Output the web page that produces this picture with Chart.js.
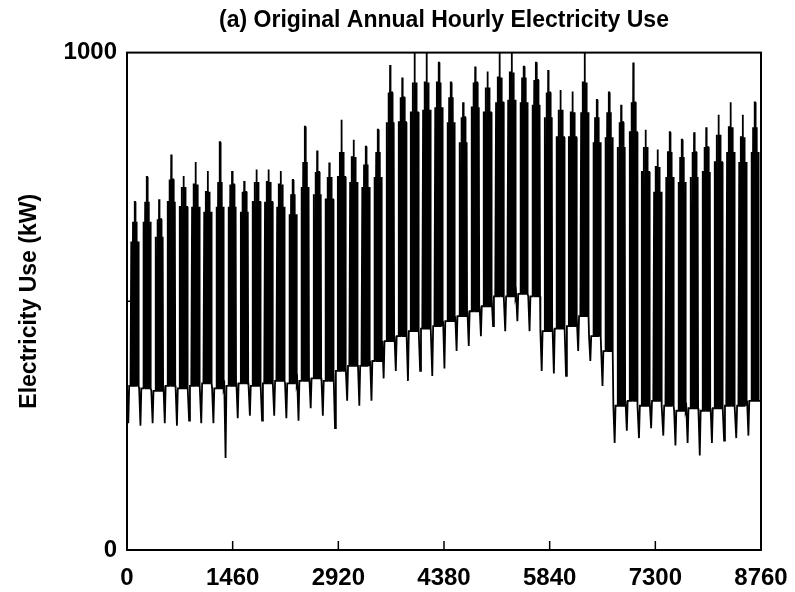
<!DOCTYPE html>
<html><head><meta charset="utf-8">
<script src="https://cdn.jsdelivr.net/npm/chart.js@4/dist/chart.umd.min.js"></script>
<style>html,body{margin:0;padding:0;background:#fff}#wrap{width:795px;height:592px}</style>
</head><body><div id="wrap"><canvas id="c" width="795" height="592"></canvas></div>
<script>
// Tick labels
const xTicks = [0,1460,2920,4380,5840,7300,8760];
const yTicks = [0,500,1000];
// Weekly readings (kW): highest weekday spike, typical weekday peak,
// lower weekday peak (start/end of week), weekday night floor, weekend low
const weekPeak = [700,750,705,795,752,780,762,820,762,742,765,765,762,744,851,803,779,865,825,811,845,975,950,1000,1000,980,940,900,972,962,1000,1000,972,980,965,925,922,1000,905,920,895,980,845,805,840,825,840,850,875,900,875,900];
const weekTop = [660,700,665,745,730,735,720,740,735,720,740,740,735,715,780,760,750,800,790,775,800,920,910,940,940,940,910,870,940,930,950,960,950,945,920,885,880,940,870,880,860,900,810,770,800,790,800,810,835,850,830,850];
const weekShoulder = [620,660,630,700,690,690,680,690,690,680,700,700,690,675,730,715,705,750,740,730,750,860,860,880,885,890,860,820,890,880,900,905,900,895,870,830,830,880,820,830,810,840,760,720,750,740,750,760,780,800,780,800];
const weekNight = [330,325,320,330,325,330,335,325,330,335,330,335,340,335,340,345,340,360,370,370,380,420,430,440,445,450,460,470,480,490,510,510,515,510,440,445,450,470,430,400,290,300,290,300,290,280,285,280,285,290,290,300];
const weekEnd = [255,250,255,255,250,260,255,255,185,265,270,260,270,265,260,285,270,245,300,290,300,345,360,340,360,350,365,400,410,430,450,440,460,440,360,355,350,400,380,330,215,240,225,245,230,210,215,190,215,220,225,230];

// Place weekly readings at their hours (2 weekend days + 5 weekdays per week)
const pts = [];
for (let w = 0; w < weekPeak.length; w++) {
  const h0 = w * 168;
  const n = weekNight[w], e = weekEnd[w];
  pts.push({x:h0, y:n},{x:h0+18, y:e},{x:h0+30, y:n});
  const dayTops = [weekShoulder[w], weekTop[w], weekPeak[w], weekTop[w], weekShoulder[w]];
  for (let d = 0; d < 5; d++) {
    const h = h0 + 48 + d*24;
    pts.push({x:h, y:n},{x:h+7, y:n},{x:h+11, y:dayTops[d]},{x:h+15, y:dayTops[d]},{x:h+19, y:n});
  }
}
pts.push({x:8736, y:weekNight[weekNight.length-1]},{x:8760, y:weekNight[weekNight.length-1]});

const F = "'Liberation Sans', Arial, sans-serif";

const frameTicks = {
  id: 'frameTicks',
  afterDraw(chart) {
    const {ctx, chartArea: a, scales: {x, y}} = chart;
    ctx.save();
    ctx.strokeStyle = '#000';
    ctx.lineWidth = 2;
    ctx.strokeRect(a.left, a.top, a.right - a.left, a.bottom - a.top);
    ctx.lineWidth = 1.5;
    ctx.beginPath();
    xTicks.slice(1, -1).forEach(v => { const px = x.getPixelForValue(v); ctx.moveTo(px, a.bottom); ctx.lineTo(px, a.bottom - 9); });
    yTicks.slice(1, -1).forEach(v => { const py = y.getPixelForValue(v); ctx.moveTo(a.left, py); ctx.lineTo(a.left + 9, py); });
    ctx.stroke();
    ctx.restore();
  }
};

new Chart(document.getElementById('c'), {
  type: 'line',
  data: { datasets: [{ data: pts, borderColor: '#000', borderWidth: 1.8, pointRadius: 0, tension: 0, fill: false }] },
  options: {
    responsive: false, animation: false, devicePixelRatio: 1,
    layout: { padding: { left: 0, right: 34, top: 0, bottom: 0 } },
    plugins: {
      legend: { display: false }, tooltip: { enabled: false },
      title: { display: true, fullSize: false, text: '(a) Original Annual Hourly Electricity Use', color: '#000',
        font: { family: F, size: 23, weight: 'bold' }, padding: { top: 7, bottom: 18 } }
    },
    scales: {
      x: {
        type: 'linear', min: 0, max: 8760,
        afterBuildTicks: s => { s.ticks = xTicks.map(v => ({ value: v })); },
        grid: { display: false, drawTicks: false }, border: { display: false },
        ticks: { color: '#000', font: { family: F, size: 24, weight: 'bold' }, padding: 14, maxRotation: 0, autoSkip: false,
          callback: v => String(v) },
        afterFit: s => { s.height = 42; s.paddingLeft = 0; s.paddingRight = 0; }
      },
      y: {
        type: 'linear', min: 0, max: 1000,
        afterBuildTicks: s => { s.ticks = yTicks.map(v => ({ value: v })); },
        grid: { display: false, drawTicks: false }, border: { display: false },
        ticks: { color: '#000', font: { family: F, size: 24, weight: 'bold' }, padding: 10, callback: v => (v === 500 ? '' : String(v)) },
        title: { display: true, text: 'Electricity Use (kW)', color: '#000', font: { family: F, size: 23, weight: 'bold' }, padding: { top: 16, bottom: 0 } },
        afterFit: s => { s.width = 127; }
      }
    }
  },
  plugins: [frameTicks]
});
</script>
</body></html>
